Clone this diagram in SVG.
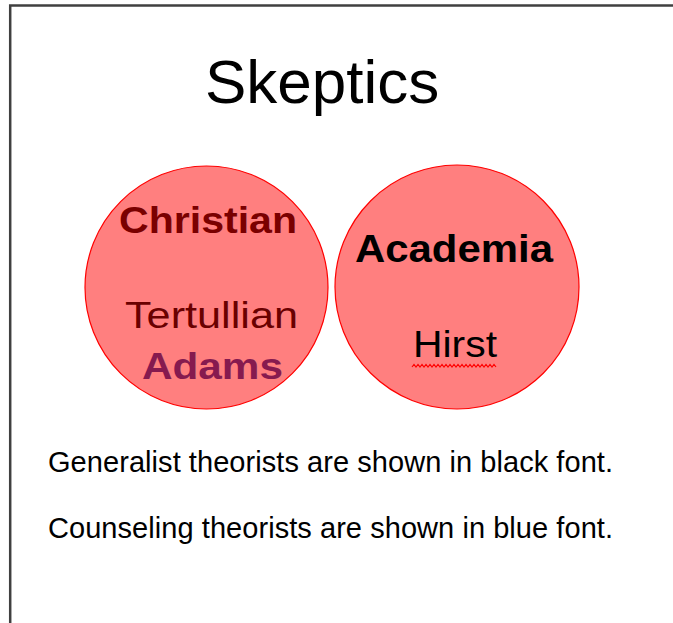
<svg xmlns="http://www.w3.org/2000/svg" width="673" height="623" viewBox="0 0 673 623">
<style>
.frame{fill:none;stroke:#404040;stroke-width:2.5}
.circ{fill:#FF7F7F;stroke:#FF0000;stroke-width:1.2}
.t{font-family:"Liberation Sans",Arial,sans-serif}
.b{font-weight:bold}
</style>
<rect width="673" height="623" fill="#FFFFFF"/>
<path class="frame" d="M10.2 623 V5.5 H673"/>
<g id="title"><text class="t" x="205" y="103" font-size="62" fill="#000">Skeptics</text></g>
<g id="christian">
<circle class="circ" cx="206.5" cy="287.5" r="121.5"/>
<text class="t b" x="119" y="233" font-size="36" fill="#7A0000" textLength="178" lengthAdjust="spacingAndGlyphs">Christian</text>
<text class="t" x="125" y="328" font-size="37" fill="#6A0000" textLength="173" lengthAdjust="spacingAndGlyphs">Tertullian</text>
<text class="t b" x="142" y="379" font-size="37" fill="#861A4F" textLength="141" lengthAdjust="spacingAndGlyphs">Adams</text>
</g>
<g id="academia">
<circle class="circ" cx="457" cy="287" r="122"/>
<text class="t b" x="355" y="262" font-size="38" fill="#000" textLength="198" lengthAdjust="spacingAndGlyphs">Academia</text>
<text class="t" x="413" y="357" font-size="37" fill="#000" textLength="84" lengthAdjust="spacingAndGlyphs">Hirst</text>
<path d="M412 367 l2 -2.5 l2 2.5 l2 -2.5 l2 2.5 l2 -2.5 l2 2.5 l2 -2.5 l2 2.5 l2 -2.5 l2 2.5 l2 -2.5 l2 2.5 l2 -2.5 l2 2.5 l2 -2.5 l2 2.5 l2 -2.5 l2 2.5 l2 -2.5 l2 2.5 l2 -2.5 l2 2.5 l2 -2.5 l2 2.5 l2 -2.5 l2 2.5 l2 -2.5 l2 2.5 l2 -2.5 l2 2.5 l2 -2.5 l2 2.5 l2 -2.5 l2 2.5 l2 -2.5 l2 2.5 l2 -2.5 l2 2.5 l2 -2.5 l2 2.5 l2 -2.5 l2 2.5" fill="none" stroke="#FF0000" stroke-width="1.2"/>
</g>
<g id="legend">
<text class="t" x="48" y="472" font-size="29" fill="#000" textLength="565" lengthAdjust="spacing">Generalist theorists are shown in black font.</text>
<text class="t" x="48" y="538" font-size="29" fill="#000" textLength="565" lengthAdjust="spacing">Counseling theorists are shown in blue font.</text>
</g>
</svg>
